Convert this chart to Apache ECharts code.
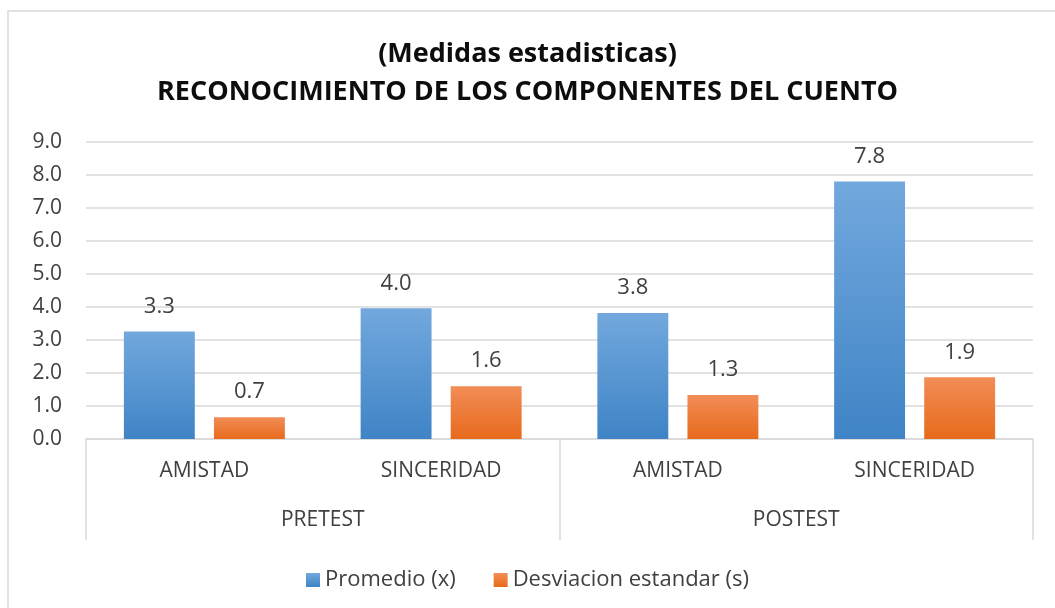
<!DOCTYPE html>
<html lang="es">
  <head>
    <meta charset="UTF-8" />
    <title>Medidas estadisticas</title>
    <script src="https://cdn.jsdelivr.net/npm/echarts@6/dist/echarts.min.js"></script>
    <style>
      html,
      body {
        margin: 0;
        padding: 0;
        background: #fff;
      }
    </style>
  </head>
  <body>
    <div id="main" style="width: 1055px; height: 608px"></div>
    <script type="text/javascript">
      // datos
      var categorias = ["AMISTAD", "SINCERIDAD", "AMISTAD", "SINCERIDAD"];
      var grupos = ["PRETEST", "POSTEST"];
      var promedio = [3.26, 3.96, 3.82, 7.8];
      var desviacion = [0.66, 1.6, 1.33, 1.87];
      var nombres = ["Promedio (x)", "Desviacion estandar (s)"];

      var fuente = "Open Sans";
      var myChart = echarts.init(document.getElementById("main"));

      function degradado(arriba, abajo) {
        return new echarts.graphic.LinearGradient(0, 0, 0, 1, [
          { offset: 0, color: arriba },
          { offset: 1, color: abajo },
        ]);
      }

      var etiqueta = {
        show: true,
        position: "top",
        distance: 14,
        fontFamily: fuente,
        fontSize: 22,
        color: "#404040",
        formatter: function (p) {
          return p.value.toFixed(1);
        },
      };

      var option = {
        backgroundColor: "#fff",
        graphic: [
          {
            type: "rect",
            shape: { x: 8, y: 11, width: 1100, height: 700 },
            style: { fill: "none", stroke: "#d9d9d9", lineWidth: 1.5 },
            silent: true,
          },
        ],
        title: {
          text: "(Medidas estadisticas)\nRECONOCIMIENTO DE LOS COMPONENTES DEL CUENTO",
          left: "center",
          top: 30,
          textStyle: {
            fontFamily: fuente,
            fontWeight: "bold",
            fontSize: 27,
            lineHeight: 38,
            color: "#0d0d0d",
          },
        },
        legend: {
          top: 564,
          left: "center",
          icon: "rect",
          itemWidth: 14,
          itemHeight: 14,
          itemGap: 38,
          textStyle: { fontFamily: fuente, fontSize: 22, color: "#404040" },
          data: nombres,
        },
        grid: { left: 86, right: 22, top: 142, bottom: 169 },
        xAxis: [
          {
            type: "category",
            data: categorias,
            axisLine: { lineStyle: { color: "#d9d9d9", width: 1.5 } },
            axisTick: { show: false },
            axisLabel: {
              margin: 22,
              fontFamily: fuente,
              fontSize: 21,
              color: "#404040",
            },
          },
          {
            type: "category",
            data: grupos,
            position: "bottom",
            axisLine: { show: false },
            axisTick: {
              show: true,
              length: 101,
              lineStyle: { color: "#d9d9d9", width: 1.5 },
            },
            axisLabel: {
              margin: 71,
              fontFamily: fuente,
              fontSize: 21,
              color: "#404040",
            },
          },
        ],
        yAxis: {
          type: "value",
          min: 0,
          max: 9,
          interval: 1,
          axisLine: { show: false },
          axisTick: { show: false },
          splitLine: { lineStyle: { color: "#d9d9d9", width: 1.5 } },
          axisLabel: {
            margin: 24,
            fontFamily: fuente,
            fontSize: 21,
            color: "#404040",
            formatter: function (v) {
              return v.toFixed(1);
            },
          },
        },
        series: [
          {
            name: nombres[0],
            type: "bar",
            data: promedio,
            barGap: "27%",
            barCategoryGap: "32%",
            itemStyle: { color: degradado("#72a8dd", "#3f84c6") },
            label: etiqueta,
          },
          {
            name: nombres[1],
            type: "bar",
            data: desviacion,
            itemStyle: { color: degradado("#f28d57", "#e76a1c") },
            label: etiqueta,
          },
        ],
      };
      myChart.setOption(option);
    </script>
  </body>
</html>
